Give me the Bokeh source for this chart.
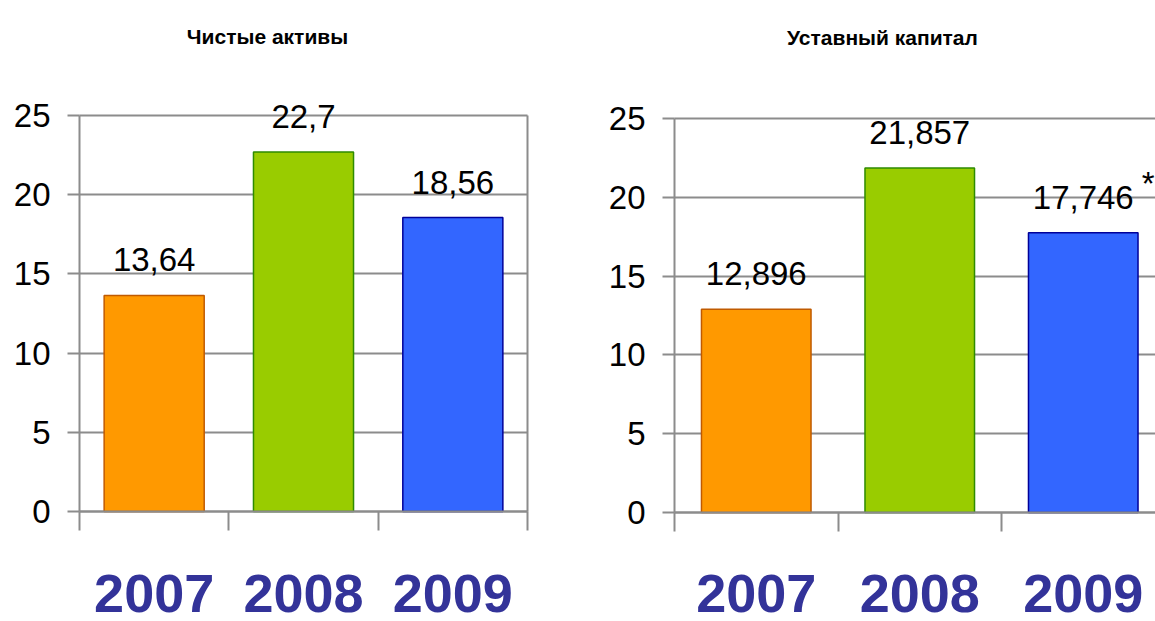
from bokeh.plotting import figure
from bokeh.models import Range1d, FixedTicker, ColumnDataSource, LabelSet, Label
from bokeh.core.properties import value
from bokeh.layouts import row
from bokeh.embed import file_html
from bokeh.resources import INLINE

# ---- data ----
years = ["2007", "2008", "2009"]
net_assets = [13.64, 22.7, 18.56]
charter_capital = [12.896, 21.857, 17.746]
y_ticks = [0, 5, 10, 15, 20, 25]
titles = ["Чистые активы", "Уставный капитал"]
fill_colors = ["#FF9900", "#99CC00", "#3366FF"]
line_colors = ["#C05A00", "#2E8B00", "#000099"]
footnote_mark = "*"

GRID = "#8C8C8C"
NUM_FONT = "Liberation Sans"
H = 621


def make_panel(values, title, width, x0px, x1px, y0px, y25px,
               title_x, title_off, right_border, star=False):
    n = len(years)
    ymax = max(y_ticks)
    ux = (x1px - x0px) / n            # pixels per category
    uy = (y0px - y25px) / ymax         # pixels per unit
    p = figure(width=width, height=H, output_backend="svg", toolbar_location=None,
               x_range=Range1d(-x0px / ux, (width - x0px) / ux),
               y_range=Range1d(-(H - y0px) / uy, ymax + y25px / uy),
               min_border_left=0, min_border_right=0,
               min_border_top=0, min_border_bottom=0)
    p.background_fill_color = "white"
    p.border_fill_color = "white"
    p.outline_line_color = None

    xs = [i + 0.5 for i in range(n)]
    src = ColumnDataSource(dict(
        x=xs, top=values, fill=fill_colors, line=line_colors,
        lab=[str(v).replace(".", ",") for v in values]))

    # grid
    p.xgrid.ticker = FixedTicker(ticks=[n] if right_border else [])
    p.xgrid.grid_line_color = GRID
    p.xgrid.grid_line_width = 2
    p.xgrid.cross_bounds = (0, ymax)
    p.ygrid.ticker = FixedTicker(ticks=y_ticks)
    p.ygrid.grid_line_color = GRID
    p.ygrid.grid_line_width = 2
    p.ygrid.cross_bounds = (0, n)

    p.vbar(x="x", top="top", bottom=0, width=0.67, source=src,
           fill_color="fill", line_color="line", line_width=1.5)

    # y axis
    ya = p.yaxis[0]
    ya.fixed_location = 0
    ya.bounds = (0, ymax)
    ya.ticker = FixedTicker(ticks=y_ticks)
    ya.major_tick_out = 12
    ya.major_tick_in = 0
    ya.minor_tick_line_color = None
    ya.major_tick_line_color = GRID
    ya.major_tick_line_width = 2
    ya.axis_line_color = GRID
    ya.axis_line_width = 2
    ya.major_label_text_font = NUM_FONT
    ya.major_label_text_font_size = "33px"
    ya.major_label_text_color = "black"
    ya.major_label_standoff = 17

    # x axis: labels at category centres, ticks on category boundaries
    xa = p.xaxis[0]
    xa.fixed_location = 0
    xa.bounds = (0, n)
    xa.ticker = FixedTicker(ticks=xs, minor_ticks=list(range(n + 1)))
    xa.major_label_overrides = {x: y for x, y in zip(xs, years)}
    xa.major_tick_out = 0
    xa.major_tick_in = 0
    xa.major_tick_line_color = None
    xa.minor_tick_out = 19
    xa.minor_tick_in = 0
    xa.minor_tick_line_color = GRID
    xa.minor_tick_line_width = 2
    xa.axis_line_color = GRID
    xa.axis_line_width = 2
    xa.major_label_text_font = "Liberation Sans"
    xa.major_label_text_font_style = "bold"
    xa.major_label_text_font_size = "54px"
    xa.major_label_text_color = "#333399"
    xa.major_label_standoff = 44 - (y0px - 511)

    # value labels
    p.add_layout(LabelSet(x="x", y="top", text="lab", source=src, y_offset=24,
                          text_align="center", text_baseline="alphabetic",
                          text_font=value(NUM_FONT), text_font_size="33px",
                          text_color="black"))
    # title
    p.add_layout(Label(x=title_x, y=ymax, y_offset=title_off, text=title,
                       text_align="center", text_baseline="alphabetic",
                       text_font="Liberation Sans", text_font_style="bold",
                       text_font_size="21px", text_color="black"))
    if star:
        p.add_layout(Label(x=xs[-1], y=values[-1], x_offset=65, y_offset=49,
                           text=footnote_mark, text_align="center",
                           text_baseline="alphabetic", text_font=NUM_FONT,
                           text_font_size="33px", text_color="black"))
    return p


p1 = make_panel(net_assets, titles[0], width=580, x0px=79, x1px=527,
                y0px=511, y25px=115, title_x=1.259, title_off=79,
                right_border=True)
p2 = make_panel(charter_capital, titles[1], width=575, x0px=94, x1px=584.5,
                y0px=512, y25px=118, title_x=1.272, title_off=81,
                right_border=False, star=True)

layout = row(p1, p2)
open("out.html", "w").write(file_html(layout, INLINE))
